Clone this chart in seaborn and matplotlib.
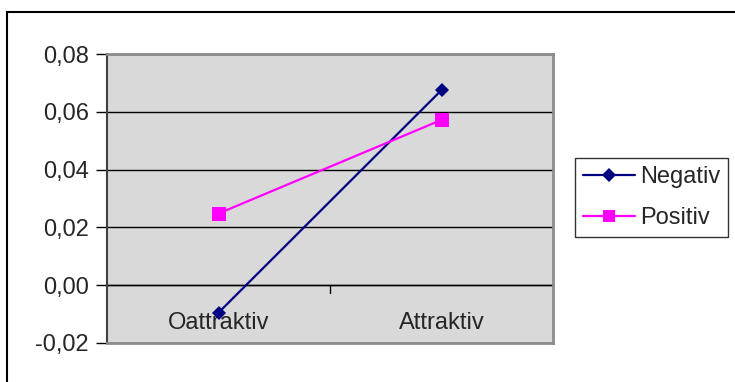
import matplotlib
matplotlib.use("Agg")
import matplotlib.pyplot as plt
import seaborn as sns
import pandas as pd
from matplotlib.patches import Rectangle
from matplotlib.ticker import FuncFormatter, MultipleLocator

categories = ["Oattraktiv", "Attraktiv"]
negativ = [-0.0095, 0.0675]
positiv = [0.0248, 0.0572]
series_names = ["Negativ", "Positiv"]

df = pd.DataFrame({
    "kategori": categories * 2,
    "värde": negativ + positiv,
    "serie": [series_names[0]] * 2 + [series_names[1]] * 2,
})

sns.set_theme(style="white")
plt.rcParams["font.family"] = ["Liberation Sans", "DejaVu Sans"]

W, H = 735, 382
FS = 17
fig = plt.figure(figsize=(W / 100, H / 100), dpi=100)
ax = fig.add_axes([107 / W, 1 - 343 / H, (553 - 107) / W, (343 - 54) / H])
ax.set_facecolor("#D9D9D9")

sns.lineplot(
    data=df, x="kategori", y="värde", hue="serie", style="serie",
    palette={"Negativ": "#000080", "Positiv": "#FF00FF"},
    markers={"Negativ": "D", "Positiv": "s"}, dashes=False,
    markersize=8, linewidth=1.6, markeredgewidth=0, ax=ax, legend=False,
    zorder=3,
)
# diamond a bit smaller than the square
for line, ms in zip(ax.lines, [7.5, 9.5]):
    line.set_markersize(ms)

ax.set_xlim(-0.5, 1.5)
ax.set_ylim(-0.02, 0.08)
ax.yaxis.set_major_locator(MultipleLocator(0.02))
ax.yaxis.set_major_formatter(FuncFormatter(lambda v, p: f"{v:.2f}".replace(".", ",").replace("-0,00", "0,00")))
ax.grid(axis="y", color="black", linewidth=1.0, zorder=1)
ax.set_axisbelow(True)
ax.set_xlabel("")
ax.set_ylabel("")

ax.tick_params(axis="y", direction="out", length=8, width=1, color="black",
               labelsize=FS, pad=5, left=True)
ax.set_xticks([0, 1])
ax.set_xticklabels(categories)
ax.tick_params(axis="x", length=0, labelsize=FS, pad=-22)

# the category axis crosses at zero, with a tick between the two groups
ax.axhline(0, color="black", linewidth=1.0, zorder=2)
ax.plot([0.5, 0.5], [0, -0.0028], color="black", linewidth=1.0, zorder=2, clip_on=False)

for side, sp in ax.spines.items():
    sp.set_visible(True)
    sp.set_color("#8C8C8C")
    sp.set_linewidth(2)
ax.spines["left"].set_color("#404040")
ax.spines["left"].set_linewidth(1.5)

handles = [
    plt.Line2D([], [], color="#000080", marker="D", markersize=7, linewidth=1.6,
               markeredgewidth=0, label="Negativ"),
    plt.Line2D([], [], color="#FF00FF", marker="s", markersize=8.5, linewidth=1.6,
               markeredgewidth=0, label="Positiv"),
]
leg = fig.legend(handles=handles, loc="upper left",
                 bbox_to_anchor=(575 / W, 1 - 158 / H), bbox_transform=fig.transFigure,
                 fontsize=FS, frameon=True, fancybox=False, borderaxespad=0,
                 handlelength=2.2, handletextpad=0.2, borderpad=0.35, labelspacing=0.8)
leg.get_frame().set_edgecolor("black")
leg.get_frame().set_linewidth(1.0)

# outer chart frame
fig.patches.append(Rectangle((7 / W, -0.1), 1.2, 1 - 12 / H + 0.1, transform=fig.transFigure,
                             fill=False, edgecolor="black", linewidth=1.5, zorder=0))

fig.savefig("out.png", dpi=100)
